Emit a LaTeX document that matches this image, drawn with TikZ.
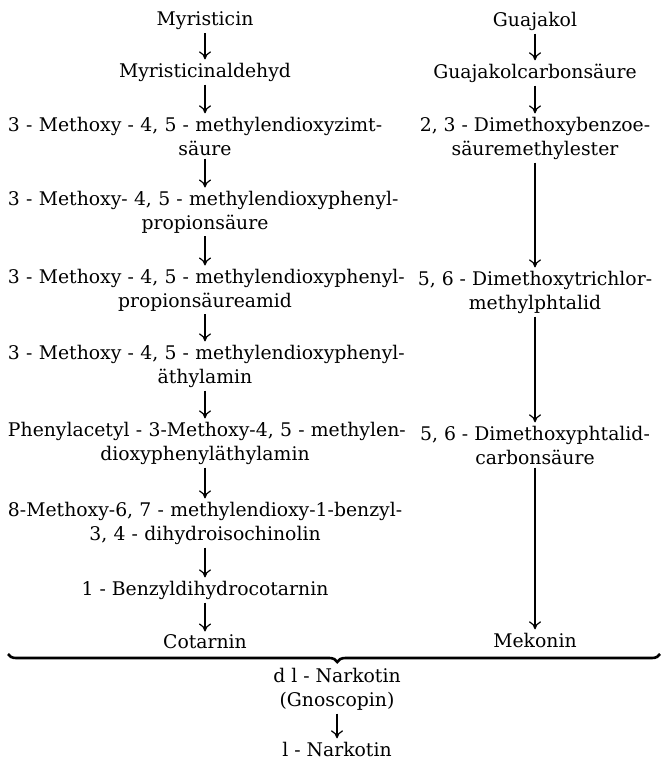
\documentclass[tikz,border=0pt]{standalone}
\usepackage{fontspec}
\setmainfont{DejaVu Serif}
\usepackage{tikz}
\usetikzlibrary{arrows.meta,decorations.pathreplacing}

\newcommand\ersteZeile[1]{\makebox[\hsize][l]{#1}}

\begin{document}
\begin{tikzpicture}[x=.5pt,y=-.5pt,
  every node/.style={font=\fontsize{9.4}{12}\selectfont,inner sep=1.5pt},
  links/.style={text width=197pt,align=center},
  rechts/.style={align=center},
  pfeil/.style={-{To[length=4pt,width=6pt]},line width=.6pt}]
\useasboundingbox (0,0) rectangle (662,763);
% Myristicin-Reihe
\node (myr) at (205,21) {Myristicin};
\node (ald) at (205,72) {Myristicinaldehyd};
\node[links] (zimt) at (205,136) {\ersteZeile{3 - Methoxy - 4, 5 - methylendioxyzimt-}\\säure};
\node[links] (prop) at (205,212) {\ersteZeile{3 - Methoxy- 4, 5 - methylendioxyphenyl-}\\propionsäure};
\node[links] (amid) at (205,290) {\ersteZeile{3 - Methoxy - 4, 5 - methylendioxyphenyl-}\\propionsäureamid};
\node[links] (athyl) at (205,366) {\ersteZeile{3 - Methoxy - 4, 5 - methylendioxyphenyl-}\\äthylamin};
\node[links] (phac) at (205,443) {\ersteZeile{Phenylacetyl - 3-Methoxy-4, 5 - methylen-}\\dioxyphenyläthylamin};
\node[links] (isoch) at (205,523) {\ersteZeile{8-Methoxy-6, 7 - methylendioxy-1-benzyl-}\\3, 4 - dihydroisochinolin};
\node (bzl) at (205,590) {1 - Benzyldihydrocotarnin};
\node (cot) at (205,642) {Cotarnin};
% Guajakol-Reihe
\node (gua) at (535,21) {Guajakol};
\node (guac) at (535,73) {Guajakolcarbonsäure};
\node[rechts] (bzoe) at (535,138) {2, 3 - Dimethoxybenzoe-\\säuremethylester};
\node[rechts] (trich) at (535,292) {5, 6 - Dimethoxytrichlor-\\methylphtalid};
\node[rechts] (phtal) at (535,445) {5, 6 - Dimethoxyphtalid-\\carbonsäure};
\node (mek) at (535,640) {Mekonin};
% Narkotin
\node[rechts] (gnos) at (337,689) {d l - Narkotin\\(Gnoscopin)};
\node (nark) at (337,749) {l - Narkotin};
\draw[pfeil] (myr) -- (ald);
\draw[pfeil] (ald) -- (zimt);
\draw[pfeil] (zimt) -- (prop);
\draw[pfeil] (prop) -- (amid);
\draw[pfeil] (amid) -- (athyl);
\draw[pfeil] (athyl) -- (phac);
\draw[pfeil] (phac) -- (isoch);
\draw[pfeil] (isoch) -- (bzl);
\draw[pfeil] (bzl) -- (cot);
\draw[pfeil] (gua) -- (guac);
\draw[pfeil] (guac) -- (bzoe);
\draw[pfeil] (bzoe) -- (trich);
\draw[pfeil] (trich) -- (phtal);
\draw[pfeil] (phtal) -- (mek);
\draw[pfeil] (gnos) -- (nark);
% Klammer
\coordinate (kl) at (8,654);
\coordinate (kr) at (660,654);
\draw[decorate,decoration={brace,mirror,amplitude=4pt,aspect=.505},line width=1.3pt] (kl) -- (kr);
\end{tikzpicture}
\end{document}
